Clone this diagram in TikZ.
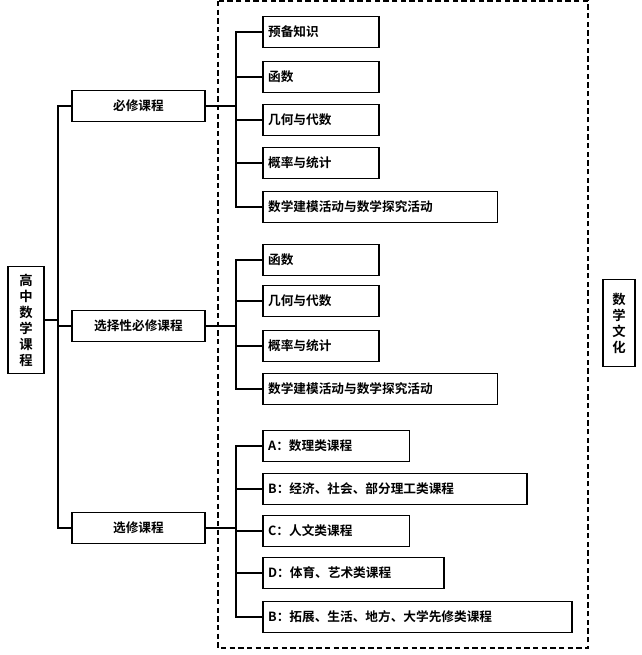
\documentclass[tikz,border=0pt]{standalone}
\usepackage{fontspec}
\newfontfamily\cjk{Noto Sans CJK SC Bold}
\begin{document}
\begin{tikzpicture}[x=0.75pt,y=-0.75pt,
  box/.style={draw,line width=1.2pt,anchor=west,minimum height=23pt,inner sep=0pt,font=\cjk\fontsize{9.5pt}{11pt}\selectfont,align=left},
  leaf/.style={box,text width=#1,inner xsep=4pt},
  mid/.style={box,minimum width=100pt,align=center},
  con/.style={line width=1.4pt}]
\useasboundingbox (0,0) rectangle (641,655);
\draw[line width=1.4pt,dash pattern=on 4pt off 2.5pt] (218,1) rectangle (588,648);
\node[draw,line width=1.2pt,minimum width=27pt,minimum height=80pt,inner sep=1pt,font=\cjk\fontsize{10pt}{12pt}\selectfont,align=center] (root) at (26,320) {高\\中\\数\\学\\课\\程};
\node[draw,line width=1.2pt,minimum width=24pt,minimum height=65pt,inner sep=1pt,font=\cjk\fontsize{10pt}{12pt}\selectfont,align=center] (cul) at (619,323) {数\\学\\文\\化};
\node[mid] (b1) at (71,106) {必修课程};
\node[mid] (b2) at (71,326) {选择性必修课程};
\node[mid] (b3) at (71,528) {选修课程};
\coordinate (t) at (58,106);
\draw[con] (root.east) -- (root.east -| t);
\draw[con] (b1.west) -- (t) -- (t |- b3.west) -- (b3.west);
\draw[con] (b2.west) -- (b2.west -| t);
% group 1
\node[leaf=79pt] (a1) at (262,32) {预备知识};
\node[leaf=79pt] (a2) at (262,77) {函数};
\node[leaf=79pt] (a3) at (262,120) {几何与代数};
\node[leaf=79pt] (a4) at (262,163) {概率与统计};
\node[leaf=168pt] (a5) at (262,207) {数学建模活动与数学探究活动};
\coordinate (k1) at (236,106);
\draw[con] (b1.east) -- (k1);
\draw[con] (a1.west) -- (a1.west -| k1) -- (a5.west -| k1) -- (a5.west);
\foreach \n in {a2,a3,a4} \draw[con] (\n.west) -- (\n.west -| k1);
% group 2
\node[leaf=79pt] (c1) at (262,260) {函数};
\node[leaf=79pt] (c2) at (262,301) {几何与代数};
\node[leaf=79pt] (c3) at (262,346) {概率与统计};
\node[leaf=168pt] (c4) at (262,389) {数学建模活动与数学探究活动};
\coordinate (k2) at (236,326);
\draw[con] (b2.east) -- (k2);
\draw[con] (c1.west) -- (c1.west -| k2) -- (c4.west -| k2) -- (c4.west);
\foreach \n in {c2,c3} \draw[con] (\n.west) -- (\n.west -| k2);
% group 3
\node[leaf=102pt] (d1) at (262,446) {A：数理类课程};
\node[leaf=190pt] (d2) at (262,489) {B：经济、社会、部分理工类课程};
\node[leaf=102pt] (d3) at (262,531) {C：人文类课程};
\node[leaf=128pt] (d4) at (262,573) {D：体育、艺术类课程};
\node[leaf=224pt] (d5) at (262,617) {B：拓展、生活、地方、大学先修类课程};
\coordinate (k3) at (236,528);
\draw[con] (b3.east) -- (k3);
\draw[con] (d1.west) -- (d1.west -| k3) -- (d5.west -| k3) -- (d5.west);
\foreach \n in {d2,d3,d4} \draw[con] (\n.west) -- (\n.west -| k3);
\end{tikzpicture}
\end{document}
